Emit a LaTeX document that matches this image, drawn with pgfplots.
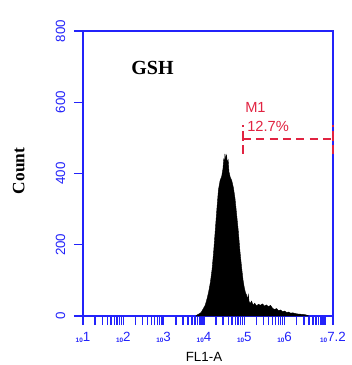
\documentclass[border=0pt]{standalone}
\usepackage{pgfplots}
\pgfplotsset{compat=1.18}
\usepackage{fontspec}
\setmainfont{Liberation Serif}
\newfontfamily\arial{Liberation Sans}
\definecolor{axblue}{RGB}{35,35,250}
\definecolor{mred}{RGB}{225,35,65}
\newcommand{\tl}[1]{{\bfseries\fontsize{4.8}{4.8}\selectfont 10}\raisebox{0.8pt}{#1}}
\begin{document}
\begin{tikzpicture}
\path[use as bounding box] (0,0) rectangle (263.25pt,273.75pt);
\begin{axis}[
  at={(62.25pt,36.75pt)}, anchor=south west,
  scale only axis, width=187.5pt, height=213.75pt,
  xmin=1, xmax=7.2, ymin=0, ymax=800,
  clip=false,
  /pgf/number format/assume math mode=true,
  axis line style={draw=axblue, line width=1.3pt},
  tick style={draw=axblue, line width=1.1pt},
  tick align=outside, tick pos=left,
  major tick length=6.8pt, minor tick length=6.8pt,
  xtick={1,2,3,4,5,6,7.2},
  xticklabels={\tl{1},\tl{2},\tl{3},\tl{4},\tl{5},\tl{6},\tl{7.2}},
  minor xtick={1.301,1.477,1.602,1.699,1.778,1.845,1.903,1.954,
    2.301,2.477,2.602,2.699,2.778,2.845,2.903,2.954,
    3.301,3.477,3.602,3.699,3.778,3.845,3.903,3.954,
    4.301,4.477,4.602,4.699,4.778,4.845,4.903,4.954,
    5.301,5.477,5.602,5.699,5.778,5.845,5.903,5.954,
    6.301,6.477,6.602,6.699,6.778,6.845,6.903,6.954,7},
  xticklabel style={font=\arial\fontsize{10}{10}\selectfont, text=axblue, yshift=-2pt},
  ytick={0,200,400,600,800},
  yticklabel shift=3pt,
  yticklabel style={rotate=90, anchor=south, font=\arial\fontsize{10}{10}\selectfont, text=axblue},
]
\addplot[fill=black, draw=black, line width=0.3pt] coordinates {
(3.80,0)(3.83,3)(3.88,6)(3.93,10)(3.98,20)(4.03,30)(4.08,50)(4.12,70)
(4.16,95)(4.20,130)(4.24,180)(4.28,240)(4.32,300)(4.36,355)(4.40,380)
(4.44,392)(4.47,412)(4.49,440)(4.51,430)(4.52,455)(4.54,440)(4.56,452)
(4.58,430)(4.60,438)(4.62,405)(4.65,390)(4.69,380)(4.73,360)(4.77,330)
(4.81,285)(4.85,240)(4.89,185)(4.93,140)(4.97,100)(5.00,80)(5.03,65)
(5.06,58)(5.08,45)(5.10,60)(5.12,40)(5.15,35)(5.18,42)(5.22,30)(5.26,36)
(5.30,28)(5.35,33)(5.40,30)(5.45,34)(5.50,28)(5.55,31)(5.60,26)(5.65,30)
(5.70,22)(5.75,18)(5.80,21)(5.85,15)(5.90,17)(5.95,12)(6.00,14)(6.05,10)
(6.10,11)(6.15,8)(6.20,9)(6.30,6)(6.40,5)(6.50,4)(6.56,2)(6.60,0)
} \closedcycle;
\addplot[mred, line width=1.2pt, dash pattern=on 6pt off 4pt] coordinates {(4.97,497)(7.2,497)};
\addplot[mred, line width=1.2pt, dash pattern=on 7pt off 3pt] coordinates {(4.97,455)(4.97,537)};
\addplot[mred, line width=1.5pt, dash pattern=on 7pt off 3pt] coordinates {(7.2,455)(7.2,537)};
\end{axis}
\node[font=\bfseries\fontsize{15}{15}\selectfont] at (114.4pt,223.1pt) {GSH};
\node[font=\bfseries\fontsize{13}{13}\selectfont, rotate=90] at (14pt,145.5pt) {Count};
\node[font=\arial\fontsize{10}{10}\selectfont] at (153pt,6pt) {FL1-A};
\node[font=\arial\fontsize{11}{11}\selectfont, text=mred, anchor=west, inner sep=0pt] at (183.75pt,193.1pt) {M1};
\node[font=\arial\fontsize{11}{11}\selectfont, text=mred, anchor=west, inner sep=0pt] at (185.25pt,178.9pt) {12.7\%};
\end{tikzpicture}
\end{document}
